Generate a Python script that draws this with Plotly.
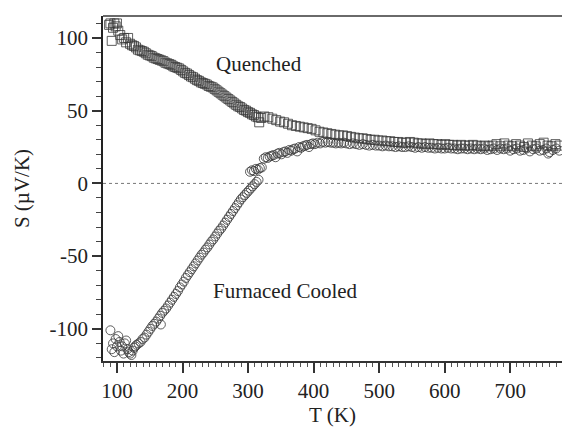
import plotly.graph_objects as go

# Quenched (squares)
quenched_T = [88, 90, 92, 94, 96, 98, 100, 102, 105, 108, 111, 114, 117, 120, 123, 126, 129, 132, 135, 138,
              141, 144, 147, 150, 153, 156, 159, 162, 165, 168, 171, 174, 177, 180, 183, 186, 189, 192, 195, 198,
              201, 204, 207, 210, 213, 216, 219, 222, 225, 228, 231, 234, 237, 240, 243, 246, 249, 252, 255, 258,
              261, 264, 267, 270, 273, 276, 279, 282, 285, 288, 291, 294, 297, 300, 303, 306, 309, 312, 315, 317,
              320, 325, 331, 337, 343, 349, 355, 361, 367, 373, 379, 385, 391, 397, 403, 409, 415, 421, 427, 433,
              439, 445, 451, 457, 463, 469, 475, 481, 487, 493, 499, 505, 511, 517, 523, 529, 535, 541, 547, 553,
              559, 565, 571, 577, 583, 589, 595, 601, 607, 613, 619, 625, 631, 637, 643, 649, 655, 661, 667, 673,
              679, 685, 691, 697, 703, 709, 715, 721, 727, 733, 739, 745, 751, 757, 763, 769, 775]
quenched_S = [109, 110, 98, 107, 110, 108, 110, 105, 102, 99, 100, 97, 100, 96, 95, 94.5, 93.5, 92, 91.5, 91,
              90.5, 89.5, 88.5, 88, 87.5, 86.5, 86, 85.5, 85, 84.5, 84, 83, 82.5, 82, 81.5, 80.5, 80, 79.5, 79, 78,
              77, 76, 75.5, 74.5, 73.5, 73, 72, 71, 70.5, 69.5, 69, 68.5, 68, 67, 66.5, 66, 65, 64, 63, 62,
              61, 60, 59, 58, 57, 56, 55, 54, 53, 52.5, 51.5, 50.5, 50, 49, 48.5, 47.5, 47, 46, 45.5, 42,
              45, 46, 45.5, 44.5, 43.5, 42.5, 42, 41, 40, 39.5, 39, 38.5, 38, 37.5, 36.5, 35.5, 35, 34.5, 34, 33.5,
              33, 33, 32.5, 32, 31.5, 31, 31, 30.5, 30, 30, 29.5, 29.5, 29, 29, 28.5, 28.5, 28, 28, 28.5, 28,
              27.5, 27.5, 27, 27.5, 27, 27, 26.5, 27, 26.5, 26.5, 26, 26.5, 26, 26, 26.5, 26, 25.5, 26, 25.5, 26,
              27, 25.5, 27.5, 26, 25.5, 27, 26, 25, 27.5, 26, 25.5, 27, 28, 26, 25.5, 27, 26]

# Furnaced Cooled (circles)
furnace_T = [90, 92, 94, 96, 98, 100, 102, 104, 106, 108, 110, 112, 114, 116, 118, 120, 122, 124, 126, 128,
             130, 133, 136, 139, 142, 145, 148, 151, 154, 157, 160, 163, 166, 167, 169, 172, 175, 178, 181, 184,
             187, 190, 193, 196, 199, 202, 205, 208, 211, 214, 217, 220, 223, 226, 229, 232, 235, 238, 241, 244,
             247, 250, 253, 256, 259, 262, 265, 268, 271, 274, 277, 280, 283, 286, 289, 292, 295, 298, 301, 304,
             307, 310, 313, 316,
             303, 306, 309, 312, 315, 318, 321, 324, 327, 330, 333, 336, 339, 342, 345, 348, 351, 354, 357, 360,
             363, 366, 369, 372, 375, 378, 381, 384, 387, 390, 393, 396, 399, 402, 406, 410, 414, 418, 422, 426,
             430, 434, 438, 442, 446, 450, 455, 460, 465, 470, 475, 480, 485, 490, 495, 500, 505, 510, 515, 520,
             525, 530, 535, 540, 545, 550, 555, 560, 565, 570, 575, 580, 585, 590, 595, 600, 605, 610, 615, 620,
             625, 630, 635, 640, 645, 650, 655, 660, 665, 670, 675, 680, 685, 690, 695, 700, 705, 710, 715, 720,
             725, 730, 735, 740, 745, 750, 755, 758, 760, 765, 770, 775]
furnace_S = [-101, -114, -110, -116, -107, -112, -105, -109, -115, -112, -117, -110, -108, -114, -116, -117, -118, -115, -113, -112,
             -111, -110, -109, -107, -106, -104, -102, -100, -98, -96.5, -95, -93, -91, -97, -89, -87.5, -86, -84, -82, -80,
             -78, -76, -74, -71.5, -69.5, -67.5, -65, -63, -61, -59, -57, -55, -53, -51, -49, -47.5, -45.5, -44, -42, -40,
             -38.5, -36.5, -34.5, -32.5, -31, -29, -27, -25, -23, -21, -19, -17, -15, -13, -11, -9.5, -8, -6.5, -5, -3.5,
             -2, -0.5, 1, 2.5,
             8, 9, 8.5, 10, 9.5, 10.5, 11, 17, 18, 17.5, 18.5, 19, 19.5, 18, 20.5, 21, 20, 21.5, 22, 21,
             23, 22.5, 23.5, 24, 22, 25, 24.5, 25.5, 26, 26.5, 25, 27, 27.5, 27, 28, 27.5, 28.5, 28, 28.5, 28,
             28, 27.5, 28, 27.5, 28, 27.5, 27, 27.5, 27, 26.5, 27, 26.5, 26, 26.5, 26, 26, 25.5, 26, 25.5, 25.5,
             25, 25.5, 25, 25, 25.5, 25, 24.5, 25, 24.5, 25, 24.5, 24.5, 24, 24.5, 24, 24, 24.5, 24, 24, 23.5,
             24, 24, 23.5, 24, 23.5, 24, 23.5, 24, 23, 23.5, 24, 23, 24, 23.5, 24, 22.5, 23.5, 24, 22.5, 23,
             24, 22, 23.5, 24, 22.5, 23, 24, 20.5, 21.5, 23, 24, 22.5]

x_ticks = [100, 200, 300, 400, 500, 600, 700]
x_labels = ["100", "200", "300", "400", "500", "600", "700"]
y_ticks = [-100, -50, 0, 50, 100]
y_labels = ["-100", "-50", "0", "50", "100"]

FONT = "Liberation Serif, Times New Roman, serif"
MARK = "rgba(55,55,55,0.8)"

fig = go.Figure()
fig.add_trace(go.Scatter(
    x=quenched_T, y=quenched_S, mode="markers", name="Quenched",
    marker=dict(symbol="square-open", size=9, color=MARK, line=dict(width=1, color=MARK)),
))
fig.add_trace(go.Scatter(
    x=furnace_T, y=furnace_S, mode="markers", name="Furnaced Cooled",
    marker=dict(symbol="circle-open", size=9, color=MARK, line=dict(width=1, color=MARK)),
))

fig.update_layout(
    width=564, height=427,
    margin=dict(l=103, r=2, t=16, b=66),
    paper_bgcolor="white", plot_bgcolor="white",
    showlegend=False,
    font=dict(family=FONT, size=21, color="#222"),
    xaxis=dict(
        range=[78.7, 779], tickvals=x_ticks, ticktext=x_labels, ticks="outside", ticklen=10, tickwidth=1.5,
        tickcolor="#333", showline=True, linecolor="#333", linewidth=1.5, showgrid=False,
        zeroline=False, tickfont=dict(family=FONT, size=21, color="#222"),
        minor=dict(dtick=10, tick0=0, ticks="outside", ticklen=4, tickcolor="#555", tickwidth=1),
        title=dict(text="T (K)", font=dict(family=FONT, size=21, color="#222"), standoff=6),
    ),
    yaxis=dict(
        range=[-122.1, 115.1], tickvals=y_ticks, ticktext=y_labels, ticks="outside", ticklen=9, tickwidth=1.5,
        tickcolor="#333", showline=True, linecolor="#222", linewidth=1.5, showgrid=False,
        zeroline=False, tickfont=dict(family=FONT, size=21, color="#222"),
        minor=dict(dtick=10, tick0=0, ticks="outside", ticklen=5, tickcolor="#444", tickwidth=1),
        title=dict(text="S (µV/K)", font=dict(family=FONT, size=21, color="#222"), standoff=14),
    ),
    shapes=[
        dict(type="line", xref="paper", yref="paper", x0=0, x1=1, y0=1, y1=1,
             line=dict(color="#6a6a6a", width=2)),
        dict(type="line", xref="paper", yref="y", x0=0, x1=1, y0=0, y1=0,
             line=dict(color="#777", width=1, dash="dot")),
    ],
    annotations=[
        dict(x=316, y=82.3, xref="x", yref="y", text="Quenched", showarrow=False,
             font=dict(family=FONT, size=21, color="#222")),
        dict(x=357, y=-73.7, xref="x", yref="y", text="Furnaced Cooled", showarrow=False,
             font=dict(family=FONT, size=21, color="#222")),
    ],
)

fig.write_html("out.html", config={"displayModeBar": False},
               post_script="document.body.style.margin='0';document.body.style.overflow='hidden';")
